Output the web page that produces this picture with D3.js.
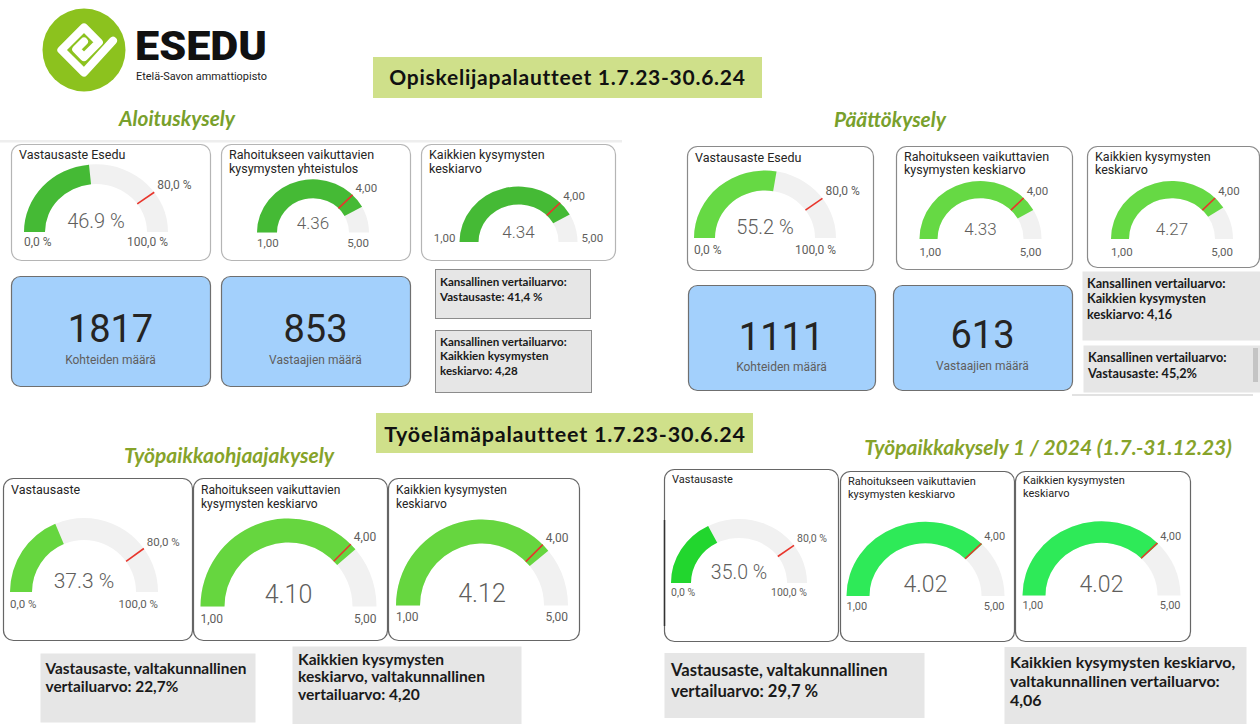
<!DOCTYPE html>
<html>
<head>
<meta charset="utf-8">
<script src="https://cdn.jsdelivr.net/npm/d3@7"></script>
<style>
  body { margin: 0; background: #fff; }
  svg { display: block; }
</style>
</head>
<body>
<div id="dash"></div>
<script>
// ---- data ----
var headerTitles = ["Opiskelijapalautteet 1.7.23-30.6.24", "Työelämäpalautteet 1.7.23-30.6.24"];
var sectionTitles = ["Aloituskysely", "Päättökysely", "Työpaikkaohjaajakysely", "Työpaikkakysely 1 / 2024 (1.7.-31.12.23)"];

var gaugeTitles = [
  ["Vastausaste Esedu"],
  ["Rahoitukseen vaikuttavien", "kysymysten yhteistulos"],
  ["Kaikkien kysymysten", "keskiarvo"],
  ["Vastausaste Esedu"],
  ["Rahoitukseen vaikuttavien", "kysymysten keskiarvo"],
  ["Kaikkien kysymysten", "keskiarvo"],
  ["Vastausaste"],
  ["Rahoitukseen vaikuttavien", "kysymysten keskiarvo"],
  ["Kaikkien kysymysten", "keskiarvo"],
  ["Vastausaste"],
  ["Rahoitukseen vaikuttavien", "kysymysten keskiarvo"],
  ["Kaikkien kysymysten", "keskiarvo"]
];
var gaugeValues = [46.9, 4.36, 4.34, 55.2, 4.33, 4.27, 37.3, 4.10, 4.12, 35.0, 4.02, 4.02];
var gaugeMin    = [0, 1, 1, 0, 1, 1, 0, 1, 1, 0, 1, 1];
var gaugeMax    = [100, 5, 5, 100, 5, 5, 100, 5, 5, 100, 5, 5];
var gaugeTarget = [80, 4, 4, 80, 4, 4, 80, 4, 4, 80, 4, 4];
var gaugeUnit   = ["%", "", "", "%", "", "", "%", "", "", "%", "", ""];

var kpiValues = [1817, 853, 1111, 613];
var kpiLabels = ["Kohteiden määrä", "Vastaajien määrä", "Kohteiden määrä", "Vastaajien määrä"];

var noteLines = [
  ["Kansallinen vertailuarvo:", "Vastausaste: 41,4 %"],
  ["Kansallinen vertailuarvo:", "Kaikkien kysymysten", "keskiarvo: 4,28"],
  ["Kansallinen vertailuarvo:", "Kaikkien kysymysten", "keskiarvo: 4,16"],
  ["Kansallinen vertailuarvo:", "Vastausaste: 45,2%"],
  ["Vastausaste, valtakunnallinen", "vertailuarvo: 22,7%"],
  ["Kaikkien kysymysten", "keskiarvo, valtakunnallinen", "vertailuarvo: 4,20"],
  ["Vastausaste, valtakunnallinen", "vertailuarvo: 29,7 %"],
  ["Kaikkien kysymysten keskiarvo,", "valtakunnallinen vertailuarvo:", "4,06"]
];

// ---- layout (positions / styles) ----
var W = 1260, H = 724;

var gaugeLayout = [
  {card:[11,144,199,116],  cx:96,    cy:232,   r:72, th:21, sy:0.94, ty:[159],     ts:12.5, vs:20, ls:12,   mode:"below", ld:14, fill:"#45ba35", stroke:"#b5b5b5"},
  {card:[221,144,189,116], cx:313,   cy:232.5, r:56, th:20, sy:0.95, ty:[159,173], ts:12.5, vs:17, ls:11.5, mode:"below", ld:14, fill:"#45ba35", stroke:"#b5b5b5"},
  {card:[421,144,194,116], cx:518.5, cy:242,   r:59, th:19, sy:0.94, ty:[159,173], ts:12.5, vs:17, ls:11.5, mode:"side",  ld:0,  fill:"#45ba35", stroke:"#b5b5b5"},
  {card:[687,146,186,124], cx:765,   cy:238,   r:71, th:21, sy:0.95, ty:[162],     ts:12.5, vs:20, ls:12,   mode:"below", ld:16, fill:"#66d944", stroke:"#8a8a8a"},
  {card:[896,146,176,123], cx:980.5, cy:239,   r:61, th:18, sy:0.95, ty:[161,174], ts:12.5, vs:17, ls:11.5, mode:"below", ld:17, fill:"#66d944", stroke:"#8a8a8a"},
  {card:[1087,146,172,121],cx:1172,  cy:239,   r:61, th:18, sy:0.95, ty:[161,174], ts:12.5, vs:17, ls:11.5, mode:"below", ld:17, fill:"#66d944", stroke:"#8a8a8a"},
  {card:[3,478,189,162],   cx:84,    cy:592,   r:74, th:22, sy:1,    ty:[494],     ts:12.5, vs:21, ls:11.5, mode:"below", ld:16, fill:"#66d63f", stroke:"#666"},
  {card:[193,478,194,162], cx:288.5, cy:606.5, r:88, th:24, sy:1,    ty:[494,508], ts:12,   vs:25, ls:12,   mode:"below", ld:16, fill:"#66d63f", stroke:"#666"},
  {card:[388,478,191,162], cx:482,   cy:605.5, r:86, th:24, sy:1,    ty:[494,508], ts:12,   vs:25, ls:12,   mode:"below", ld:15, fill:"#66d63f", stroke:"#666"},
  {card:[664,469,174,172], cx:739,   cy:583,   r:68, th:20, sy:0.94, ty:[482.5],   ts:11,   vs:19.5,ls:10.5, mode:"below", ld:13, fill:"#22d62e", stroke:"#666"},
  {card:[840,471,174,170], cx:925.5, cy:596,   r:79, th:23, sy:0.94, ty:[485,497.5],ts:11,  vs:23, ls:11,   mode:"below", ld:14, fill:"#2eea58", stroke:"#666"},
  {card:[1015,471,175,170],cx:1101.5,cy:595.5, r:79, th:23, sy:0.94, ty:[484,496.5],ts:11,  vs:23, ls:11,   mode:"below", ld:13, fill:"#2eea58", stroke:"#666"}
];

var kpiLayout = [
  {box:[11,276,199,110],  nb:342, lb:364},
  {box:[221,276,189,110], nb:342, lb:364},
  {box:[688,285,187,105], nb:350, lb:371},
  {box:[893,285,179,105], nb:348, lb:370}
];

var noteLayout = [
  {box:[435,269,155,49],   tx:440,  y0:285.5, lh:15,   fs:11.6, stroke:"#8c8c8c"},
  {box:[435,330,156,62],   tx:440,  y0:345.5, lh:14.8, fs:11.6, stroke:"#8c8c8c"},
  {box:[1082,271,178,69],  tx:1087, y0:288,   lh:15.3, fs:12.7, stroke:"none"},
  {box:[1083,345,177,47],  tx:1088, y0:362,   lh:16,   fs:12.7, stroke:"none"},
  {box:[40,653,215,69],    tx:45.5, y0:673.5, lh:18.7, fs:15.4, stroke:"none"},
  {box:[292,646,229,78],   tx:298,  y0:664.5, lh:17.7, fs:15.6, stroke:"none"},
  {box:[664,652.5,260,65], tx:671,  y0:675.5, lh:21.5, fs:16.6, stroke:"none"},
  {box:[1004,646.5,242,78],tx:1010, y0:667.5, lh:19.3, fs:16,   stroke:"none"}
];

var fiLocale = d3.formatLocale({decimal: ",", thousands: "\u00a0", grouping: [3], currency: ["", " €"]});
function axisLabel(v, unit) { return unit == "%" ? fiLocale.format(".1f")(v) + " %" : fiLocale.format(".2f")(v); }
function centerLabel(v, unit) { return unit == "%" ? d3.format(".1f")(v) + " %" : d3.format(".2f")(v); }

var svg = d3.select("#dash").append("svg")
    .attr("width", W)
    .attr("height", H)
    .style("font-family", "Roboto, sans-serif");

svg.append("rect").attr("width", W).attr("height", H).attr("fill", "#fff");

// ---- logo ----
var logo = svg.append("g").attr("transform", "translate(84,50)");
logo.append("circle").attr("r", 41.5).attr("fill", "#8cc21e");
var spiral = [[27,14],[-16,16],[-16,-16],[16,-16],[16,5],[-5,5],[-5,-6],[6,-6]];
logo.append("path")
    .attr("d", d3.line()(spiral))
    .attr("transform", "rotate(-45)")
    .attr("fill", "none")
    .attr("stroke", "#fff")
    .attr("stroke-width", 8)
    .attr("stroke-linejoin", "round")
    .attr("stroke-linecap", "round");
svg.append("text")
    .attr("x", 135).attr("y", 59.5)
    .attr("font-size", 40).attr("font-weight", 900)
    .attr("textLength", 132).attr("lengthAdjust", "spacingAndGlyphs")
    .attr("fill", "#111")
    .text("ESEDU");
svg.append("text")
    .attr("x", 136).attr("y", 79.5)
    .attr("font-size", 10.5)
    .attr("textLength", 131).attr("lengthAdjust", "spacingAndGlyphs")
    .attr("fill", "#222")
    .text("Etelä-Savon ammattiopisto");

// faint strip above the first section
svg.append("rect").attr("x", 0).attr("y", 140).attr("width", 622).attr("height", 2.5).attr("fill", "#eeeeee");

// ---- banners ----
var banners = [{box:[373,57,389,41], tx:567.5, ty:84.5, fs:21, ls:0.75}, {box:[376,413,377,40], tx:565, ty:441.5, fs:21.5, ls:0.8}];
banners.forEach(function(b, i) {
  svg.append("rect")
      .attr("x", b.box[0]).attr("y", b.box[1]).attr("width", b.box[2]).attr("height", b.box[3])
      .attr("fill", "#cfe08a");
  svg.append("text")
      .attr("x", b.tx).attr("y", b.ty)
      .attr("text-anchor", "middle")
      .attr("font-family", "Lato, sans-serif")
      .attr("font-weight", 700)
      .attr("font-size", b.fs)
      .attr("letter-spacing", b.ls)
      .attr("fill", "#111")
      .text(headerTitles[i]);
});

// section titles
var sectionPos = [[177,126,20.8,"#78a02c"], [890,126.5,20.8,"#78a02c"], [229,462.5,21,"#86a32a"], [1048,455,21,"#86a32a"]];
sectionTitles.forEach(function(t, i) {
  svg.append("text")
      .attr("x", sectionPos[i][0]).attr("y", sectionPos[i][1])
      .attr("text-anchor", "middle")
      .attr("font-family", "Lato, sans-serif")
      .attr("font-weight", 700)
      .attr("font-style", "italic")
      .attr("font-size", sectionPos[i][2])
      .attr("fill", sectionPos[i][3])
      .text(t);
});

// ---- gauges ----
gaugeLayout.forEach(function(L, i) {
  var g = svg.append("g");
  var unit = gaugeUnit[i];

  g.append("rect")
      .attr("x", L.card[0] + 0.5).attr("y", L.card[1] + 0.5)
      .attr("width", L.card[2]).attr("height", L.card[3])
      .attr("rx", 10)
      .attr("fill", "#fff")
      .attr("stroke", L.stroke)
      .attr("stroke-width", 1.2);

  gaugeTitles[i].forEach(function(line, k) {
    g.append("text")
        .attr("x", L.card[0] + 8).attr("y", L.ty[k])
        .attr("font-size", L.ts)
        .attr("fill", "#252423")
        .text(line);
  });

  var angle = d3.scaleLinear()
      .domain([gaugeMin[i], gaugeMax[i]])
      .range([-Math.PI / 2, Math.PI / 2])
      .clamp(true);
  var arc = d3.arc().innerRadius(L.r - L.th).outerRadius(L.r);

  var ga = g.append("g").attr("transform", "translate(" + L.cx + "," + L.cy + ") scale(1," + L.sy + ")");
  ga.append("path")
      .attr("d", arc({startAngle: -Math.PI / 2, endAngle: Math.PI / 2}))
      .attr("fill", "#f1f1f1");
  ga.append("path")
      .attr("d", arc({startAngle: -Math.PI / 2, endAngle: angle(gaugeValues[i])}))
      .attr("fill", L.fill);

  var ta = angle(gaugeTarget[i]);
  ga.append("line")
      .attr("x1", Math.sin(ta) * (L.r - L.th)).attr("y1", -Math.cos(ta) * (L.r - L.th))
      .attr("x2", Math.sin(ta) * L.r).attr("y2", -Math.cos(ta) * L.r)
      .attr("stroke", "#e8352b")
      .attr("stroke-width", 1.6)
      .attr("vector-effect", "non-scaling-stroke");

  // target label
  g.append("text")
      .attr("x", L.cx + Math.sin(ta) * L.r + 3)
      .attr("y", L.cy - Math.cos(ta) * L.r * L.sy - 3)
      .attr("font-size", L.ls)
      .attr("fill", "#605e5c")
      .text(axisLabel(gaugeTarget[i], unit));

  // min / max labels
  if (L.mode == "below") {
    g.append("text")
        .attr("x", L.cx - L.r).attr("y", L.cy + L.ld)
        .attr("font-size", L.ls).attr("fill", "#605e5c")
        .text(axisLabel(gaugeMin[i], unit));
    g.append("text")
        .attr("x", L.cx + L.r).attr("y", L.cy + L.ld)
        .attr("text-anchor", "end")
        .attr("font-size", L.ls).attr("fill", "#605e5c")
        .text(axisLabel(gaugeMax[i], unit));
  } else {
    g.append("text")
        .attr("x", L.cx - L.r - 4).attr("y", L.cy)
        .attr("text-anchor", "end")
        .attr("font-size", L.ls).attr("fill", "#605e5c")
        .text(axisLabel(gaugeMin[i], unit));
    g.append("text")
        .attr("x", L.cx + L.r + 4).attr("y", L.cy)
        .attr("font-size", L.ls).attr("fill", "#605e5c")
        .text(axisLabel(gaugeMax[i], unit));
  }

  // callout value
  g.append("text")
      .attr("x", L.cx).attr("y", L.cy - 4)
      .attr("text-anchor", "middle")
      .attr("font-size", L.vs)
      .attr("font-weight", 300)
      .attr("fill", "#605e5c")
      .text(centerLabel(gaugeValues[i], unit));
});

// darker left edge seen on the last section's first card
svg.append("line").attr("x1", 664.5).attr("x2", 664.5).attr("y1", 520).attr("y2", 626)
    .attr("stroke", "#333").attr("stroke-width", 1.5);

// ---- KPI cards ----
kpiLayout.forEach(function(L, i) {
  var b = L.box;
  svg.append("rect")
      .attr("x", b[0] + 0.5).attr("y", b[1] + 0.5)
      .attr("width", b[2]).attr("height", b[3])
      .attr("rx", 9)
      .attr("fill", "#a3d0fc")
      .attr("stroke", "#6f6f6f")
      .attr("stroke-width", 1.2);
  svg.append("text")
      .attr("x", b[0] + b[2] / 2).attr("y", L.nb)
      .attr("text-anchor", "middle")
      .attr("font-size", 38)
      .attr("fill", "#252423")
      .text(d3.format("d")(kpiValues[i]));
  svg.append("text")
      .attr("x", b[0] + b[2] / 2).attr("y", L.lb)
      .attr("text-anchor", "middle")
      .attr("font-size", 12)
      .attr("fill", "#605e5c")
      .text(kpiLabels[i]);
});

// ---- comparison notes ----
noteLayout.forEach(function(L, i) {
  var b = L.box;
  svg.append("rect")
      .attr("x", b[0] + 0.5).attr("y", b[1] + 0.5)
      .attr("width", b[2]).attr("height", b[3])
      .attr("fill", "#e6e6e6")
      .attr("stroke", L.stroke)
      .attr("stroke-width", 1);
  noteLines[i].forEach(function(line, k) {
    svg.append("text")
        .attr("x", L.tx).attr("y", L.y0 + k * L.lh)
        .attr("font-family", "Lato, sans-serif")
        .attr("font-weight", 700)
        .attr("font-size", L.fs)
        .attr("fill", "#1a1a1a")
        .text(line);
  });
});

// scroll thumb and rule under the right-hand notes
svg.append("rect").attr("x", 1253).attr("y", 348).attr("width", 5).attr("height", 34).attr("fill", "#c4c4c4");
svg.append("rect").attr("x", 1072).attr("y", 394).attr("width", 181).attr("height", 2).attr("fill", "#e2e2e2");
</script>
</body>
</html>
